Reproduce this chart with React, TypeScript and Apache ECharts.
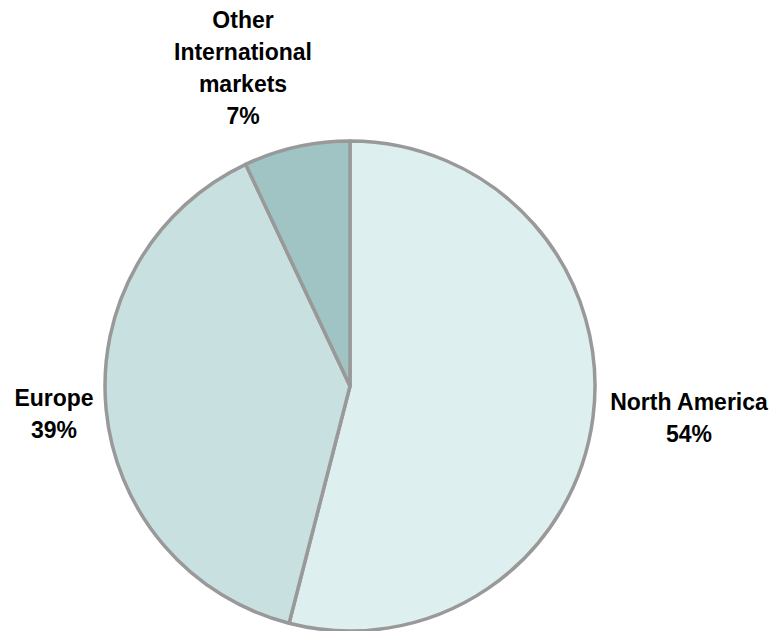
import React, { useEffect, useRef } from "react";
import * as echarts from "echarts";

const categories = ["North America", "Europe", "Other\nInternational\nmarkets"];
const shares = [54, 39, 7];
const sliceColors = ["#ddefee", "#c8e0e0", "#a0c4c4"];
const labelCenters: [number, number][] = [
  [689, 418],
  [54, 414],
  [243, 68],
];

export default function App() {
  const ref = useRef<HTMLDivElement>(null);
  useEffect(() => {
    document.body.style.margin = "0";
    const chart = echarts.init(ref.current!, null, { renderer: "svg" });
    chart.setOption({
      animation: false,
      backgroundColor: "#ffffff",
      series: [
        {
          type: "pie",
          center: [350, 386],
          radius: 245,
          startAngle: 90,
          clockwise: true,
          silent: true,
          data: categories.map((name, i) => ({
            name,
            value: shares[i],
            itemStyle: { color: sliceColors[i] },
          })),
          itemStyle: { borderColor: "#999999", borderWidth: 3.5 },
          label: {
            show: true,
            position: "outside",
            formatter: "{b}\n{c}%",
            fontFamily: "Liberation Sans, Arial, sans-serif",
            fontWeight: "bold",
            fontSize: 23,
            lineHeight: 32,
            color: "#000000",
            align: "center",
            overflow: "none",
            width: 200,
            edgeDistance: 0,
          },
          labelLine: { show: false },
          labelLayout: (params: any) => {
            const c = labelCenters[params.dataIndex];
            return { x: c[0], y: c[1], align: "center", verticalAlign: "middle" };
          },
          emphasis: { disabled: true },
        },
      ],
    });
    return () => chart.dispose();
  }, []);
  return <div ref={ref} style={{ width: 774, height: 631 }} />;
}
